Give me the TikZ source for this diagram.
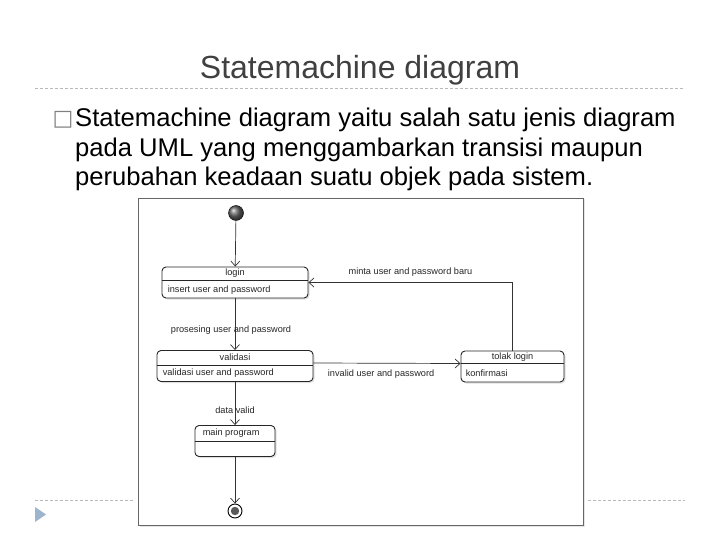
\documentclass[tikz,border=0pt]{standalone}
\usepackage{fontspec}
\setmainfont{Liberation Sans}
\newfontfamily\simbol{DejaVu Sans}
\usepackage{tikz}
\usetikzlibrary{arrows.meta,shadows,positioning}
\definecolor{judul}{HTML}{404040}
\definecolor{segitiga}{HTML}{9DB4CE}
\tikzset{
  keadaan/.style={draw=black!85,line width=0.9pt,rounded corners=4pt,fill=white,minimum height=31pt,inner sep=0pt,
    drop shadow={opacity=0.25,shadow xshift=1.5pt,shadow yshift=-1.5pt}},
  sekat/.style={draw=black!85,line width=0.6pt},
  ket/.style={font=\fontsize{9.2}{11}\selectfont,text=black!85,inner sep=0pt},
  panah/.style={-{Straight Barb[length=5pt,width=9pt]},draw=black!80,line width=0.7pt},
  garis/.style={draw=gray!55,dash pattern=on 3pt off 2pt,line width=0.7pt}
}
\begin{document}
\begin{tikzpicture}[x=1pt,y=-1pt]
\useasboundingbox (0,0) rectangle (720,540);
% judul
\node[font=\fontsize{32}{38}\selectfont,text=judul,anchor=base] (judul) at (360,79) {Statemachine diagram};
\draw[garis] (35,88) -- (685,88);
% isi
\node[font=\simbol\fontsize{22}{22}\selectfont,text=gray,anchor=base] (butir) at (63,126) {□};
\node[font=\fontsize{25.6}{29.5}\selectfont,align=left,anchor=north west,inner sep=0pt] (isi) at (75,108)
  {Statemachine diagram yaitu salah satu jenis diagram\\
   pada UML yang menggambarkan transisi maupun\\
   perubahan keadaan suatu objek pada sistem.};
% bagian bawah
\draw[garis] (35,500) -- (133,500);
\draw[garis] (588,500) -- (685,500);
\fill[segitiga] (35,507) -- (46,514.5) -- (35,522) -- cycle;
% bingkai diagram
\draw[gray!80!black,fill=white,drop shadow={opacity=0.2,shadow xshift=1.5pt,shadow yshift=-1.5pt}] (138,198) rectangle (583,525);
% keadaan
\node[circle,draw=black,minimum size=15pt,inner sep=0pt,shading=ball,ball color=black!60] (awal) at (236,213) {};
\node[keadaan,minimum width=146pt] (login) at (235,282.5) {};
\draw[sekat] ([yshift=-14pt]login.north west) -- ([yshift=-14pt]login.north east);
\node[ket] at ([yshift=-7pt]login.north) {login};
\node[ket,anchor=west] at ([xshift=6pt,yshift=8.5pt]login.south west) {insert user and password};
\node[keadaan,minimum width=156pt] (validasi) at (235,366) {};
\draw[sekat] ([yshift=-15pt]validasi.north west) -- ([yshift=-15pt]validasi.north east);
\node[ket] at ([yshift=-7.5pt]validasi.north) {validasi};
\node[ket,anchor=west] at ([xshift=6pt,yshift=8.5pt]validasi.south west) {validasi user and password};
\node[keadaan,minimum width=103pt] (tolak) at (512.5,366.5) {};
\draw[sekat] ([yshift=-13pt]tolak.north west) -- ([yshift=-13pt]tolak.north east);
\node[ket] at ([yshift=-7pt]tolak.north) {tolak login};
\node[ket,anchor=west] at ([xshift=5pt,yshift=9pt]tolak.south west) {konfirmasi};
\node[keadaan,minimum width=80pt] (utama) at (235,441) {};
\draw[sekat] ([yshift=-16pt]utama.north west) -- ([yshift=-16pt]utama.north east);
\node[ket,anchor=west] at ([xshift=8pt,yshift=-8pt]utama.north west) {main program};
\node[circle,draw=black,line width=0.9pt,minimum size=14pt,inner sep=0pt] (akhir) at (235,511) {};
\fill[black!65] (akhir) circle (4.2pt);
% transisi
\draw[panah] (awal) -- (login);
\draw[panah] (login) -- node[ket,pos=0.62,xshift=-4pt] {prosesing user and password} (validasi);
\draw[panah] ([yshift=3pt]validasi.east) -- node[ket,pos=0.46,below=6pt] {invalid user and password} ([yshift=3pt]tolak.west);
\draw[panah] (tolak.north) |- node[ket,pos=0.75,above=6pt] {minta user and password baru} (login.east);
\draw[panah] (validasi) -- node[ket,pos=0.65] {data valid} (utama);
\draw[panah] (utama) -- (akhir);
\end{tikzpicture}
\end{document}
